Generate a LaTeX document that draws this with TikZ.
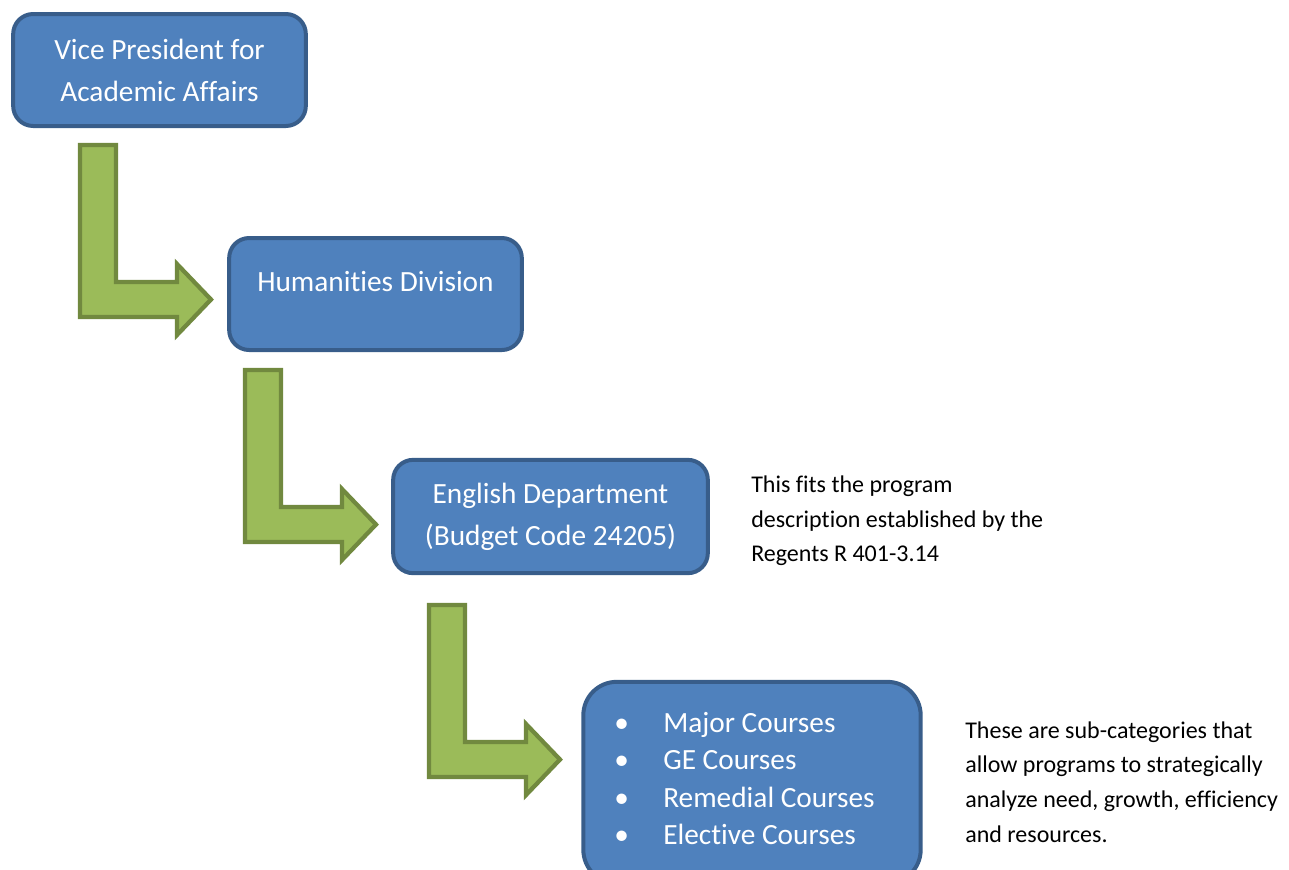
\documentclass[tikz,border=0pt]{standalone}
\usepackage{fontspec}
\setmainfont{Carlito}[Ligatures=NoCommon]
\usetikzlibrary{positioning}

\definecolor{boxfill}{HTML}{4F81BD}
\definecolor{boxline}{HTML}{385D8A}
\definecolor{arrowfill}{HTML}{9BBB59}
\definecolor{arrowline}{HTML}{71893F}

\tikzset{
  orgbox/.style={draw=boxline, fill=boxfill, line width=3pt, rounded corners=15pt,
    text=white, align=center, font=\fontsize{22}{31.5}\selectfont},
  boxtext/.style={text=white, align=left, inner sep=0pt, font=\fontsize{22}{28}\selectfont},
  note/.style={align=left, anchor=west, inner sep=0pt, font=\fontsize{18}{25.9}\selectfont},
  pics/bentarrow/.style={code={
    \draw[draw=arrowline, fill=arrowfill, line width=3.2pt, line join=miter]
      (0,0) -- (36,0) -- (36,137) -- (97,137) -- (97,119) -- (131,154.5)
      -- (97,190) -- (97,172) -- (0,172) -- cycle;
  }},
}

\begin{document}
\begin{tikzpicture}[x=0.75pt,y=0.75pt,yscale=-1]
\clip (0,0) rectangle (1289,869);

%Shape: Rounded Rect [id:vp]
\node[orgbox, minimum width=219.5pt, minimum height=84pt] (vp) at (159.5,70)
  {Vice President for\\Academic Affairs};

%Shape: Rounded Rect [id:hum]
\node[orgbox, minimum width=219.5pt, minimum height=84pt] (hum) at (375.5,294) {};
% Text Node
\node[boxtext] (humtext) at (375.5,282) {Humanities Division};

%Shape: Rounded Rect [id:eng]
\node[orgbox, minimum width=236pt, minimum height=85pt] (eng) at (550.5,516.5)
  {English Department\\(Budget Code 24205)};

%Shape: Rounded Rect [id:courses]
\node[orgbox, rounded corners=25pt, minimum width=253pt, minimum height=151pt] (courses) at (752,782.5) {};
% Text Node
\node[boxtext, anchor=west] (courselist) at (614,778.5)
  {\makebox[36.75pt][l]{\textbullet}Major Courses\\
   \makebox[36.75pt][l]{\textbullet}GE Courses\\
   \makebox[36.75pt][l]{\textbullet}Remedial Courses\\
   \makebox[36.75pt][l]{\textbullet}Elective Courses};

%Shape: Bent Arrows
\pic[transform shape] at (80,145) {bentarrow};
\pic[transform shape] at (245,370) {bentarrow};
\pic[transform shape] at (429,605) {bentarrow};

% Text Node
\node[note] (engnote) at (751,521)
  {This fits the program\\description established by the\\Regents R 401-3.14};
% Text Node
\node[note] (coursenote) at (965,782)
  {These are sub-categories that\\allow programs to strategically\\analyze need, growth, efficiency\\and resources.};

\end{tikzpicture}
\end{document}
